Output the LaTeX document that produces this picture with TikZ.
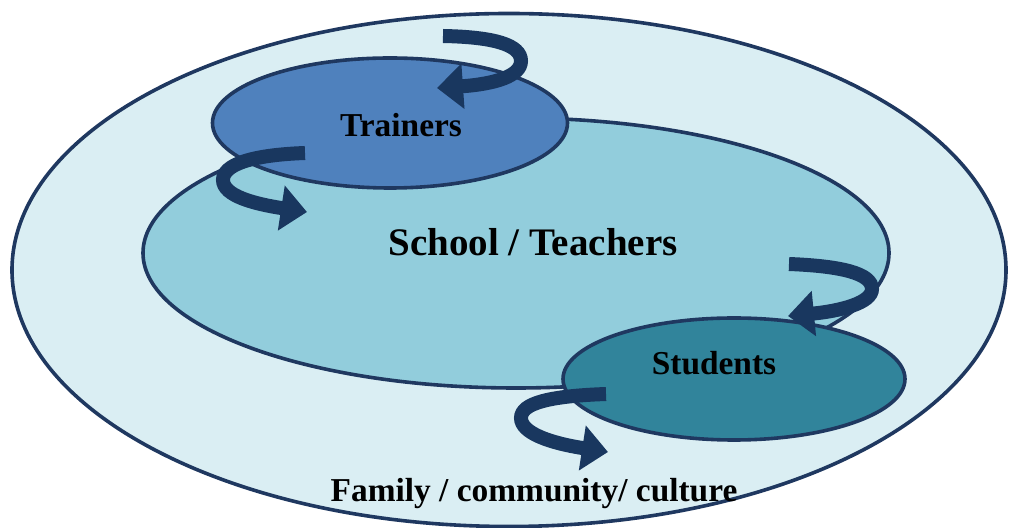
\documentclass[tikz,border=0pt]{standalone}
\usepackage{fontspec}
\setmainfont{Liberation Serif}
\usetikzlibrary{shapes.geometric,arrows.meta}
\definecolor{outerfill}{RGB}{218,238,243}
\definecolor{schoolfill}{RGB}{146,205,220}
\definecolor{trainfill}{RGB}{79,129,189}
\definecolor{studfill}{RGB}{49,132,155}
\definecolor{rim}{RGB}{31,56,96}
\definecolor{ribbon}{RGB}{25,55,95}

\begin{document}
\begin{tikzpicture}
  [x=0.5pt,y=-0.5pt,
   ring/.style={ellipse,draw=rim,line width=1.8pt,inner sep=0pt},
   lbl/.style={font=\bfseries\fontsize{16.7}{18}\selectfont,text=black},
   loop arrow/.style={draw=ribbon,line width=7pt,
     -{Triangle[length=13pt,width=22pt]}}]
  \useasboundingbox (0,0) rectangle (1012,528);
  % the four circles
  \node[ring,fill=outerfill,minimum width=497pt,minimum height=256.5pt] (culture) at (509,270) {};
  \node[ring,fill=schoolfill,minimum width=373pt,minimum height=135pt] (school) at (516,253) {};
  \node[ring,fill=trainfill,minimum width=177.5pt,minimum height=65pt] (trainers) at (390,123) {};
  \node[ring,fill=studfill,minimum width=171pt,minimum height=61pt] (students) at (734,379) {};
  % labels
  \node[lbl] (trainersText) at (401,125) {Trainers};
  \node[lbl,font=\bfseries\fontsize{19.5}{22}\selectfont] (schoolText) at (533,242) {School / Teachers};
  \node[lbl] (studentsText) at (714,363) {Students};
  \node[lbl] (cultureText) at (534,494) {Family / community/ culture};
  % turning arrows
  \coordinate (a1) at (443,36);
  \coordinate (a2) at (437,88);
  \coordinate (b1) at (305,153);
  \coordinate (b2) at (307,212);
  \coordinate (c1) at (789,264);
  \coordinate (c2) at (788,316);
  \coordinate (d1) at (606,394);
  \coordinate (d2) at (608,452);
  \draw[loop arrow] (a1) .. controls (495,37) and (521,45) .. (521,61)
    .. controls (521,76) and (495,84) .. (a2);
  \draw[loop arrow] (b1) .. controls (250,155) and (223,165) .. (223,180)
    .. controls (223,196) and (255,204) .. (b2);
  \draw[loop arrow] (c1) .. controls (840,266) and (872,273) .. (872,289)
    .. controls (872,303) and (840,311) .. (c2);
  \draw[loop arrow] (d1) .. controls (550,396) and (521,403) .. (521,418)
    .. controls (521,433) and (550,443) .. (d2);
\end{tikzpicture}
\end{document}
